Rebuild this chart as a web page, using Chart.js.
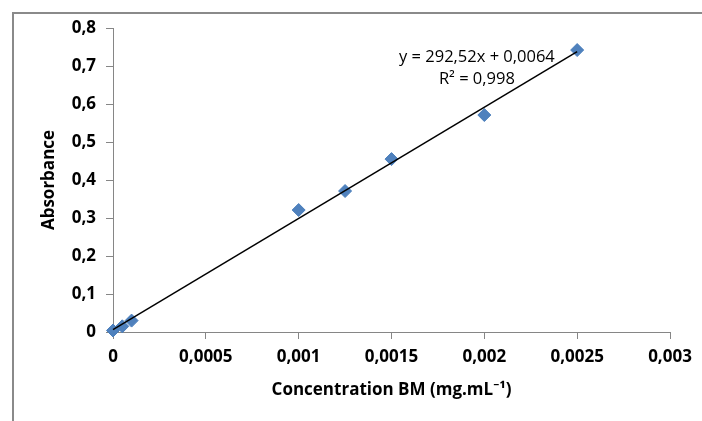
<!DOCTYPE html>
<html>
<head>
<meta charset="utf-8">
<script src="https://cdn.jsdelivr.net/npm/chart.js@4/dist/chart.umd.min.js"></script>
<style>
    body { margin: 0; background: #fff; }
    #wrap { position: relative; width: 702px; height: 421px; overflow: hidden; }
    #frame {
        position: absolute; left: 12px; top: 12px; width: 720px; height: 440px;
        border-left: 2px solid #8a8a8a; border-top: 2px solid #8a8a8a;
    }
    canvas { position: absolute; left: 0; top: 0; }
</style>
</head>
<body>
<div id="wrap">
    <div id="frame"></div>
    <canvas id="chart" width="702" height="421"></canvas>
</div>
<script>
// measured points (concentration in mg/mL, absorbance)
const concentration = [0, 0.00005, 0.0001, 0.001, 0.00125, 0.0015, 0.002, 0.0025];
const absorbance = [0.004, 0.015, 0.03, 0.321, 0.371, 0.455, 0.571, 0.742];

// linear trendline end points (from y = 292,52x + 0,0064)
const trendX = [0, 0.0025];
const trendY = [0.0064, 0.7377];

// axis ranges / ticks
const xTicks = [0, 0.0005, 0.001, 0.0015, 0.002, 0.0025, 0.003];
const yTicks = [0, 0.1, 0.2, 0.3, 0.4, 0.5, 0.6, 0.7, 0.8];

const equationLines = ["y = 292,52x + 0,0064", "R² = 0,998"];

const FONT = "'Open Sans', 'Noto Sans', sans-serif";

// european decimal comma
function fmt(v) {
    return String(+v.toFixed(6)).replace(".", ",");
}

// writes the trendline equation next to the last point
const equationPlugin = {
    id: "equation",
    afterDatasetsDraw(chart) {
        const ctx = chart.ctx;
        const x = chart.scales.x.getPixelForValue(0.00196);
        ctx.save();
        ctx.font = "16.5px " + FONT;
        ctx.fillStyle = "#000";
        ctx.textAlign = "center";
        ctx.textBaseline = "middle";
        ctx.fillText(equationLines[0], x, chart.scales.y.getPixelForValue(0.722));
        ctx.fillText(equationLines[1], x, chart.scales.y.getPixelForValue(0.664));
        ctx.restore();
    }
};

const points = concentration.map((c, i) => ({ x: c, y: absorbance[i] }));
const trend = trendX.map((c, i) => ({ x: c, y: trendY[i] }));

new Chart(document.getElementById("chart"), {
    type: "scatter",
    data: {
        datasets: [{
            label: "Absorbance",
            data: points,
            pointStyle: "rectRot",
            pointRadius: 6.5,
            pointBackgroundColor: "#4f81bd",
            pointBorderColor: "#4a7ebb",
            pointBorderWidth: 1,
            clip: false,
            order: 1
        },
        {
            label: "Linear",
            type: "line",
            data: trend,
            borderColor: "#000",
            borderWidth: 1.5,
            pointRadius: 0,
            fill: false,
            clip: false,
            order: 0
        }]
    },
    plugins: [equationPlugin],
    options: {
        responsive: false,
        animation: false,
        events: [],
        layout: { padding: { top: 28, right: 32, left: 0, bottom: 0 } },
        plugins: {
            legend: { display: false },
            tooltip: { enabled: false }
        },
        scales: {
            x: {
                type: "linear",
                min: 0,
                max: 0.003,
                afterBuildTicks: (scale) => { scale.ticks = xTicks.map(v => ({ value: v })); },
                afterFit: (scale) => { scale.height = 89; },
                grid: { drawOnChartArea: false, color: "#868686", tickLength: 7 },
                border: { color: "#868686", width: 1 },
                ticks: {
                    color: "#000",
                    padding: 8,
                    maxRotation: 0,
                    font: { family: FONT, size: 17, weight: "bold" },
                    callback: (v) => fmt(v)
                },
                title: {
                    display: true,
                    text: "Concentration BM (mg.mL⁻¹)",
                    color: "#000",
                    font: { family: FONT, size: 17, weight: "bold" },
                    padding: { top: 0, bottom: 21 }
                }
            },
            y: {
                min: 0,
                max: 0.8,
                afterBuildTicks: (scale) => { scale.ticks = yTicks.map(v => ({ value: v })); },
                afterFit: (scale) => { scale.width = 113; },
                grid: { drawOnChartArea: false, color: "#868686", tickLength: 7 },
                border: { color: "#868686", width: 1 },
                ticks: {
                    color: "#000",
                    padding: 10,
                    font: { family: FONT, size: 17, weight: "bold" },
                    callback: (v) => fmt(v)
                },
                title: {
                    display: true,
                    text: "Absorbance",
                    color: "#000",
                    font: { family: FONT, size: 17, weight: "bold" },
                    padding: { top: 39, bottom: 0 }
                }
            }
        }
    }
});
</script>
</body>
</html>
